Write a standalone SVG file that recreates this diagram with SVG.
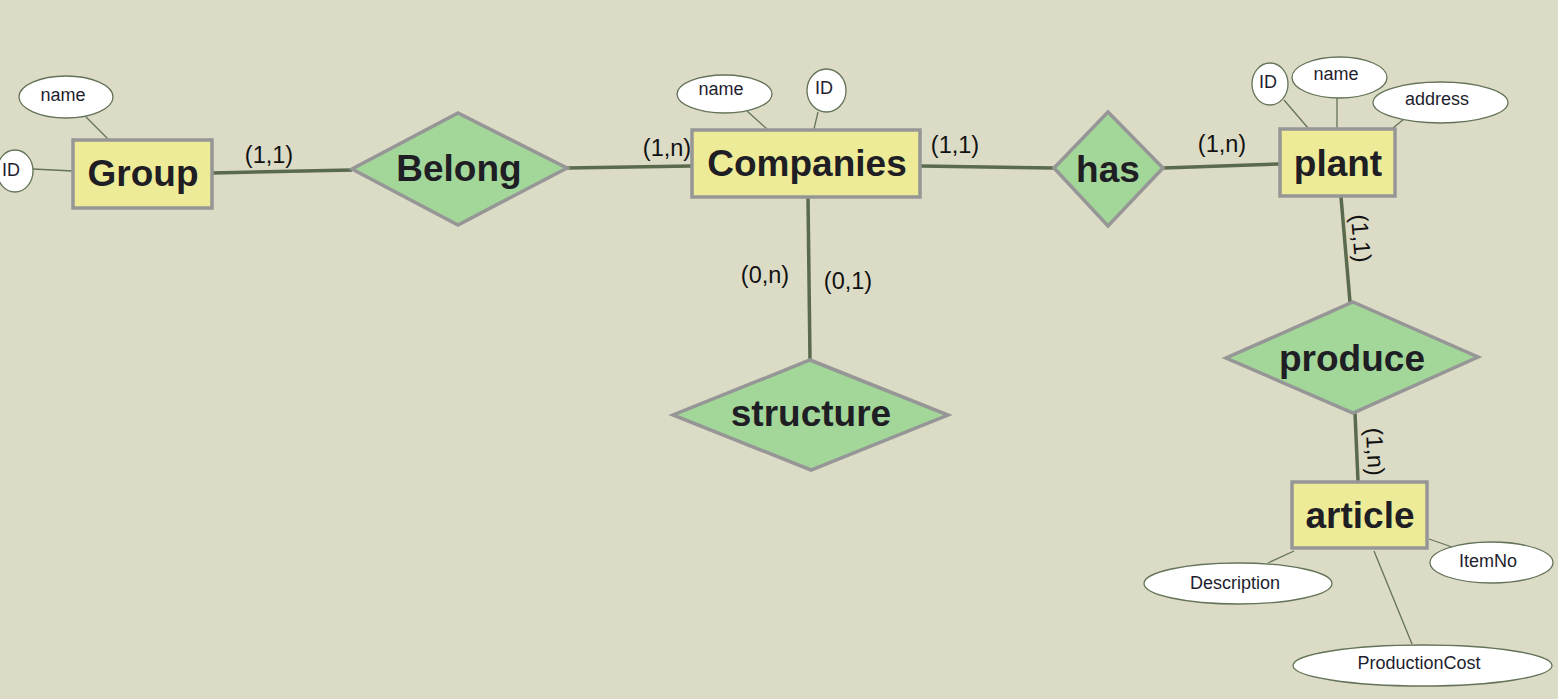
<svg xmlns="http://www.w3.org/2000/svg" width="1558" height="699" viewBox="0 0 1558 699">
<style>
.ent{fill:#eeeb98;stroke:#969696;stroke-width:3.5}
.rel{fill:#a3d699;stroke:#969696;stroke-width:3.5}
.att{fill:#ffffff;stroke:#637358;stroke-width:1.3}
.al{stroke:#637358;stroke-width:1.3;fill:none}
.cn{stroke:#5a6a4c;stroke-width:3.5;fill:none}
.t{font-family:"Liberation Sans",Arial,sans-serif;font-weight:bold;font-size:37px;fill:#1e1e24;text-anchor:middle}
.a{font-family:"Liberation Sans",Arial,sans-serif;font-size:18px;fill:#1e1e2e;text-anchor:middle}
.c{font-family:"Liberation Sans",Arial,sans-serif;font-size:23.5px;fill:#111;text-anchor:middle}
</style>
<rect x="0" y="0" width="1558" height="699" fill="#dcdbc6"/>
<g id="connectors">
<line class="cn" x1="212" y1="173" x2="352" y2="170"/>
<line class="cn" x1="567" y1="168" x2="692" y2="166"/>
<line class="cn" x1="921" y1="166" x2="1054" y2="168"/>
<line class="cn" x1="1163" y1="168" x2="1280" y2="164"/>
<line class="cn" x1="808" y1="198" x2="810" y2="360"/>
<line class="cn" x1="1341" y1="197" x2="1350" y2="302"/>
<line class="cn" x1="1355" y1="413" x2="1358" y2="481"/>
<text class="c" x="269" y="163">(1,1)</text>
<text class="c" x="667" y="156">(1,n)</text>
<text class="c" x="955" y="153">(1,1)</text>
<text class="c" x="1222" y="152">(1,n)</text>
<text class="c" x="765" y="283">(0,n)</text>
<text class="c" x="848" y="289">(0,1)</text>
<text class="c" transform="translate(1353,239) rotate(85)">(1,1)</text>
<text class="c" transform="translate(1367,452) rotate(87)">(1,n)</text>
</g>
<g id="Group">
<line class="al" x1="86" y1="117" x2="108" y2="139"/>
<line class="al" x1="33" y1="169" x2="73" y2="171"/>
<ellipse class="att" cx="66" cy="97" rx="47" ry="21"/>
<text class="a" x="63" y="101">name</text>
<ellipse class="att" cx="15" cy="171" rx="18" ry="21"/>
<text class="a" x="11" y="176">ID</text>
<rect class="ent" x="73" y="140" width="139" height="68"/>
<text class="t" x="143" y="186">Group</text>
</g>
<g id="Belong">
<polygon class="rel" points="458,113 567,168 458,225 352,169"/>
<text class="t" x="459" y="181">Belong</text>
</g>
<g id="Companies">
<line class="al" x1="747" y1="111" x2="767" y2="129"/>
<line class="al" x1="818" y1="112" x2="814" y2="129"/>
<ellipse class="att" cx="724.5" cy="94" rx="47.5" ry="19"/>
<text class="a" x="721" y="95">name</text>
<ellipse class="att" cx="826.5" cy="90.5" rx="19.5" ry="21.5"/>
<text class="a" x="824" y="94">ID</text>
<rect class="ent" x="692" y="130" width="228" height="67"/>
<text class="t" x="807" y="176">Companies</text>
</g>
<g id="structure">
<polygon class="rel" points="810,360 948,415 811,470 673,415"/>
<text class="t" x="811" y="426">structure</text>
</g>
<g id="has">
<polygon class="rel" points="1108,112 1163,168 1108,226 1054,168"/>
<text class="t" x="1108" y="182">has</text>
</g>
<g id="plant">
<line class="al" x1="1284" y1="100" x2="1308" y2="128"/>
<line class="al" x1="1337" y1="98" x2="1337" y2="128"/>
<line class="al" x1="1404" y1="119" x2="1393" y2="128"/>
<ellipse class="att" cx="1270" cy="84" rx="18" ry="21"/>
<text class="a" x="1268" y="88">ID</text>
<ellipse class="att" cx="1339.5" cy="77.5" rx="47.5" ry="20.5"/>
<text class="a" x="1336" y="80">name</text>
<ellipse class="att" cx="1440.5" cy="102.5" rx="67.5" ry="20.5"/>
<text class="a" x="1437" y="105">address</text>
<rect class="ent" x="1280" y="129" width="115" height="67"/>
<text class="t" x="1338" y="176">plant</text>
</g>
<g id="produce">
<polygon class="rel" points="1353,302 1478,357 1353,413 1226,358"/>
<text class="t" x="1352" y="371">produce</text>
</g>
<g id="article">
<line class="al" x1="1268" y1="563" x2="1294" y2="551"/>
<line class="al" x1="1429" y1="539" x2="1452" y2="547"/>
<line class="al" x1="1374" y1="551" x2="1412" y2="644"/>
<ellipse class="att" cx="1238" cy="583.5" rx="94" ry="20.5"/>
<text class="a" x="1235" y="589">Description</text>
<ellipse class="att" cx="1491.5" cy="562.5" rx="61.5" ry="20.5"/>
<text class="a" x="1488" y="567">ItemNo</text>
<ellipse class="att" cx="1422.5" cy="665.5" rx="129.5" ry="20.5"/>
<text class="a" x="1419" y="669">ProductionCost</text>
<rect class="ent" x="1292" y="482" width="135" height="66"/>
<text class="t" x="1360" y="528">article</text>
</g>
</svg>
